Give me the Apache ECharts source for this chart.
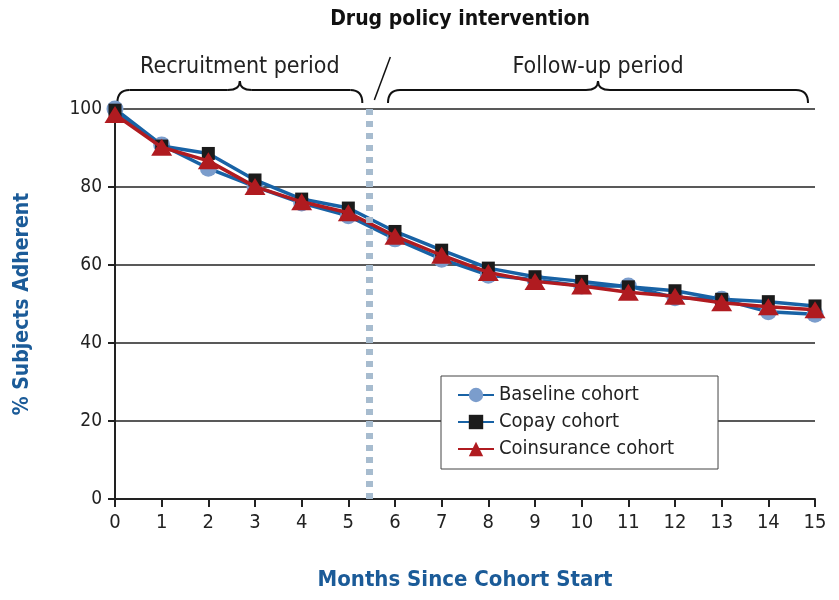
<!DOCTYPE html>
<html><head><meta charset="utf-8">
<script src="https://cdn.jsdelivr.net/npm/echarts@6/dist/echarts.min.js"></script>
<style>html,body{margin:0;padding:0;background:#fff}#c{width:839px;height:600px}</style>
</head><body><div id="c"></div>
<script>
const months = [0,1,2,3,4,5,6,7,8,9,10,11,12,13,14,15];
const baseline = [100,90.8,84.8,80.1,75.9,72.6,66.7,61.5,57.4,56.2,54.6,54.6,51.6,51.2,48.0,47.4];
const copay = [99.7,90.5,88.6,81.8,76.9,74.6,68.6,63.8,59.2,57.0,55.8,54.4,53.4,51.2,50.6,49.5];
const coinsurance = [98.6,90.2,86.7,80.1,76.2,73.4,67.4,62.5,58.1,55.8,54.6,53.0,52.0,50.3,49.3,48.5];
const interventionMonth = 5.45;
const F = "'Liberation Sans Narrow','DejaVu Sans Condensed','Arial Narrow',sans-serif";
const blue = '#1862a5', red = '#b01b20', axisBlue = '#1b5b98';
const chart = echarts.init(document.getElementById('c'));
function pairs(arr){return months.map((m,i)=>[m,arr[i]]);}
chart.setOption({
  animation:false,
  grid:{left:115,right:24,top:109,bottom:101},
  xAxis:{type:'value',min:0,max:15,interval:1,
    axisLine:{lineStyle:{color:'#222',width:2}},
    axisTick:{show:true,length:8,lineStyle:{color:'#222',width:2}},
    axisLabel:{color:'#222',fontSize:20,fontFamily:F,margin:14},
    splitLine:{show:false},
    name:'Months Since Cohort Start',nameLocation:'middle',nameGap:70,
    nameTextStyle:{color:axisBlue,fontSize:22,fontWeight:'bold',fontFamily:F}},
  yAxis:{type:'value',min:0,max:100,interval:20,
    axisLine:{show:true,lineStyle:{color:'#222',width:2}},
    axisTick:{show:true,length:7,lineStyle:{color:'#222',width:2}},
    axisLabel:{color:'#222',fontSize:19,fontFamily:F,margin:13},
    splitLine:{show:true,lineStyle:{color:'#222',width:1.5}},
    name:'% Subjects Adherent',nameLocation:'middle',nameGap:82,
    nameTextStyle:{color:axisBlue,fontSize:21,fontWeight:'bold',fontFamily:F}},
  legend:{orient:'vertical',left:441,top:376,
    padding:[9,44,10,16],itemGap:7,itemWidth:36,itemHeight:18,
    borderColor:'#444',borderWidth:1,backgroundColor:'#fff',
    textStyle:{fontSize:20,fontFamily:F,color:'#222'},
    data:['Baseline cohort','Copay cohort','Coinsurance cohort']},
  series:[
    {name:'Baseline cohort',type:'line',data:pairs(baseline),symbol:'circle',symbolSize:17,
     lineStyle:{color:blue,width:3.5},itemStyle:{color:'#7b9dcc'},z:2,
     markLine:{silent:true,symbol:'none',label:{show:false},
       lineStyle:{color:'#a7bccf',width:7,type:[6,6]},data:[{xAxis:interventionMonth}]}},
    {name:'Copay cohort',type:'line',data:pairs(copay),symbol:'rect',symbolSize:13,
     lineStyle:{color:blue,width:3.5},itemStyle:{color:'#1b1b1b'},z:3},
    {name:'Coinsurance cohort',type:'line',data:pairs(coinsurance),symbol:'triangle',symbolSize:[21,17],
     lineStyle:{color:red,width:3.5},itemStyle:{color:red},z:4}
  ]
});
function px(x,y){return chart.convertToPixel({gridIndex:0},[x,y]);}
const stroke={fill:null,stroke:'#111',lineWidth:2};
function brace(x1,x2){
  const a=px(x1,0)[0], b=px(x2,0)[0], m=(a+b)/2;
  const yb=103, yt=90, ytip=81, r=12;
  return [
    {type:'bezierCurve',shape:{x1:a,y1:yb,cpx1:a,cpy1:yt,x2:a+r,y2:yt},style:stroke},
    {type:'line',shape:{x1:a+r,y1:yt,x2:m-r,y2:yt},style:stroke},
    {type:'bezierCurve',shape:{x1:m-r,y1:yt,cpx1:m,cpy1:yt,x2:m,y2:ytip},style:stroke},
    {type:'bezierCurve',shape:{x1:m,y1:ytip,cpx1:m,cpy1:yt,x2:m+r,y2:yt},style:stroke},
    {type:'line',shape:{x1:m+r,y1:yt,x2:b-r,y2:yt},style:stroke},
    {type:'bezierCurve',shape:{x1:b-r,y1:yt,cpx1:b,cpy1:yt,x2:b,y2:yb},style:stroke}
  ];
}
const mid1=(px(0.05,0)[0]+px(5.3,0)[0])/2, mid2=(px(5.85,0)[0]+px(14.85,0)[0])/2;
const ix=px(interventionMonth,0)[0];
chart.setOption({graphic:[].concat(brace(0.05,5.3),brace(5.85,14.85),[
  {type:'line',shape:{x1:ix+21,y1:57,x2:ix+5,y2:100},style:{stroke:'#111',lineWidth:1.5}},
  {type:'text',x:mid1,y:67,style:{text:'Recruitment period',align:'center',verticalAlign:'middle',fontSize:23,fontFamily:F,fill:'#222'}},
  {type:'text',x:mid2,y:67,style:{text:'Follow-up period',align:'center',verticalAlign:'middle',fontSize:23,fontFamily:F,fill:'#222'}},
  {type:'text',x:460,y:20,style:{text:'Drug policy intervention',align:'center',verticalAlign:'middle',fontSize:21,fontWeight:'bold',fontFamily:F,fill:'#111'}}
])});
</script></body></html>
